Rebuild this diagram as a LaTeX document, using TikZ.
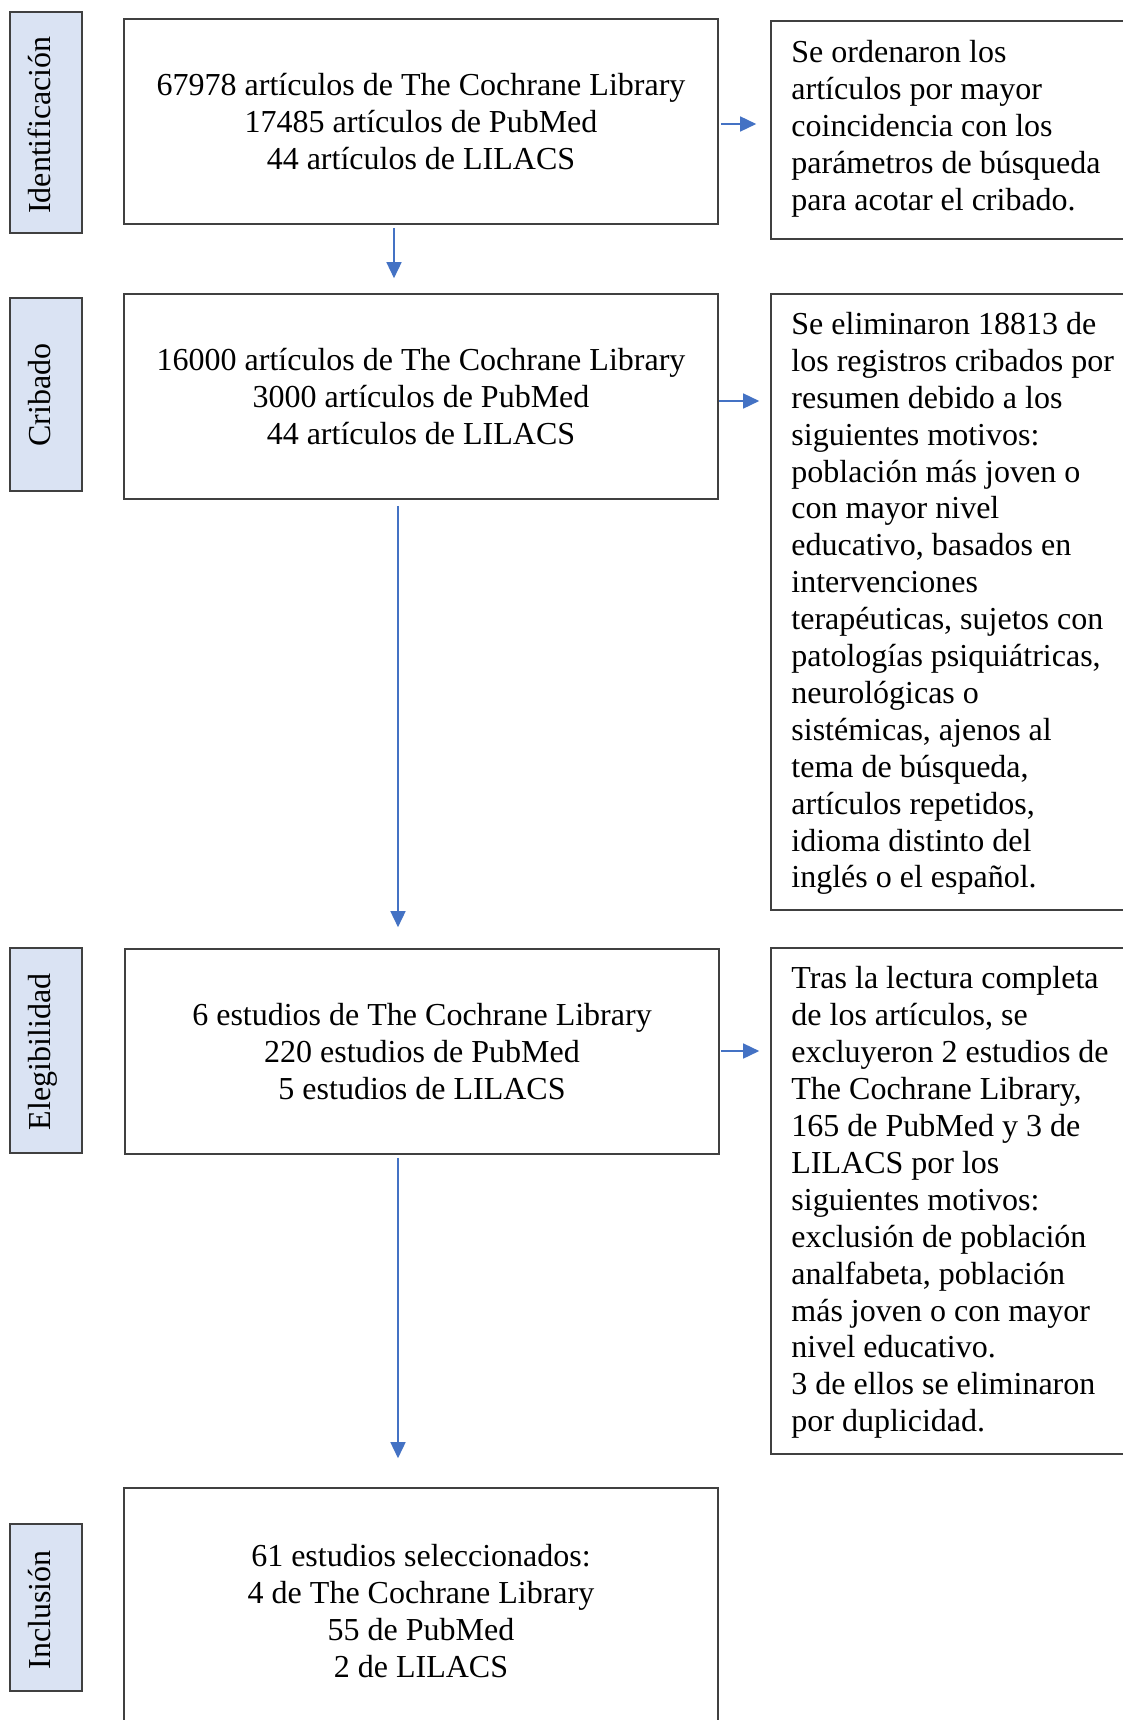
\documentclass[tikz,border=0pt]{standalone}
\usepackage{fontspec}
\setmainfont{Liberation Serif}
\usetikzlibrary{arrows.meta}
\definecolor{lblfill}{HTML}{DAE3F3}
\definecolor{arrblue}{HTML}{4472C4}
\definecolor{boxline}{HTML}{404040}
\begin{document}
\begin{tikzpicture}[x=1pt,y=-1pt,
  txt/.style={font=\fontsize{32}{36.9}\selectfont},
  mainbox/.style={draw=boxline,line width=1.6pt,minimum width=594pt,inner sep=0pt,txt,align=center},
  sidebox/.style={draw=boxline,line width=1.6pt,minimum width=364pt,inner sep=0pt},
  sidetext/.style={txt,align=left,inner sep=0pt,anchor=north west},
  lblbox/.style={draw=boxline,fill=lblfill,line width=1.6pt,minimum width=72pt,inner sep=0pt},
  lbltext/.style={txt,rotate=90,anchor=base,inner sep=0pt},
  arr/.style={draw=arrblue,line width=1.5pt,-{Triangle[length=16pt,width=15pt]}}]
\useasboundingbox (0,0) rectangle (1122,1720);

% stage labels
\node[lblbox,minimum height=221pt] (L1) at (46,122.5) {};
\node[lbltext] (L1t) at (50,125) {Identificación};
\node[lblbox,minimum height=193pt] (L2) at (46,394.5) {};
\node[lbltext] (L2t) at (50,395) {Cribado};
\node[lblbox,minimum height=205pt] (L3) at (46,1050.5) {};
\node[lbltext] (L3t) at (50,1052) {Elegibilidad};
\node[lblbox,minimum height=167pt] (L4) at (46,1607.5) {};
\node[lbltext] (L4t) at (50,1610) {Inclusión};

% main boxes
\node[mainbox,minimum height=205pt] (B1) at (421,121.5)
  {67978 artículos de The Cochrane Library\\17485 artículos de PubMed\\44 artículos de LILACS};
\node[mainbox,minimum height=205pt] (B2) at (421,396.5)
  {16000 artículos de The Cochrane Library\\3000 artículos de PubMed\\44 artículos de LILACS};
\node[mainbox,minimum height=205pt] (B3) at (422,1051.5)
  {6 estudios de The Cochrane Library\\220 estudios de PubMed\\5 estudios de LILACS};
\node[mainbox,minimum height=246pt] (B4) at (421,1611)
  {61 estudios seleccionados:\\4 de The Cochrane Library\\55 de PubMed\\2 de LILACS};

% side boxes
\node[sidebox,minimum height=218pt] (R1) at (953,130) {};
\node[sidetext] (R1t) at ([xshift=21pt,yshift=-18.5pt]R1.north west)
  {\rule{0pt}{24pt}Se ordenaron los\\artículos por mayor\\coincidencia con los\\parámetros de búsqueda\\para acotar el cribado.};
\node[sidebox,minimum height=616pt] (R2) at (953,602) {};
\node[sidetext] (R2t) at ([xshift=21pt,yshift=-17pt]R2.north west)
  {\rule{0pt}{24pt}Se eliminaron 18813 de\\los registros cribados por\\resumen debido a los\\siguientes motivos:\\población más joven o\\con mayor nivel\\educativo, basados en\\intervenciones\\terapéuticas, sujetos con\\patologías psiquiátricas,\\neurológicas o\\sistémicas, ajenos al\\tema de búsqueda,\\artículos repetidos,\\idioma distinto del\\inglés o el español.};
\node[sidebox,minimum height=506pt] (R3) at (953,1201) {};
\node[sidetext] (R3t) at ([xshift=21pt,yshift=-17.5pt]R3.north west)
  {\rule{0pt}{24pt}Tras la lectura completa\\de los artículos, se\\excluyeron 2 estudios de\\The Cochrane Library,\\165 de PubMed y 3 de\\LILACS por los\\siguientes motivos:\\exclusión de población\\analfabeta, población\\más joven o con mayor\\nivel educativo.\\3 de ellos se eliminaron\\por duplicidad.};

% vertical arrows
\draw[arr,shorten <=3pt,shorten >=15pt] ([xshift=-27pt]B1.south) -- ([xshift=-27pt]B2.north);
\draw[arr,shorten <=6pt,shorten >=21pt] ([xshift=-23pt]B2.south) -- ([xshift=-23pt]B2.south |- B3.north);
\draw[arr,shorten <=3pt,shorten >=29pt] ([xshift=-24pt]B3.south) -- ([xshift=-24pt]B3.south |- B4.north);

% horizontal arrows
\draw[arr,shorten <=2pt,shorten >=14pt] ([yshift=-2.5pt]B1.east) -- ([yshift=-2.5pt]B1.east -| R1.west);
\draw[arr,shorten <=0pt,shorten >=11pt] ([yshift=-4.5pt]B2.east) -- ([yshift=-4.5pt]B2.east -| R2.west);
\draw[arr,shorten <=1pt,shorten >=11pt] ([yshift=0.5pt]B3.east) -- ([yshift=0.5pt]B3.east -| R3.west);
\end{tikzpicture}
\end{document}
